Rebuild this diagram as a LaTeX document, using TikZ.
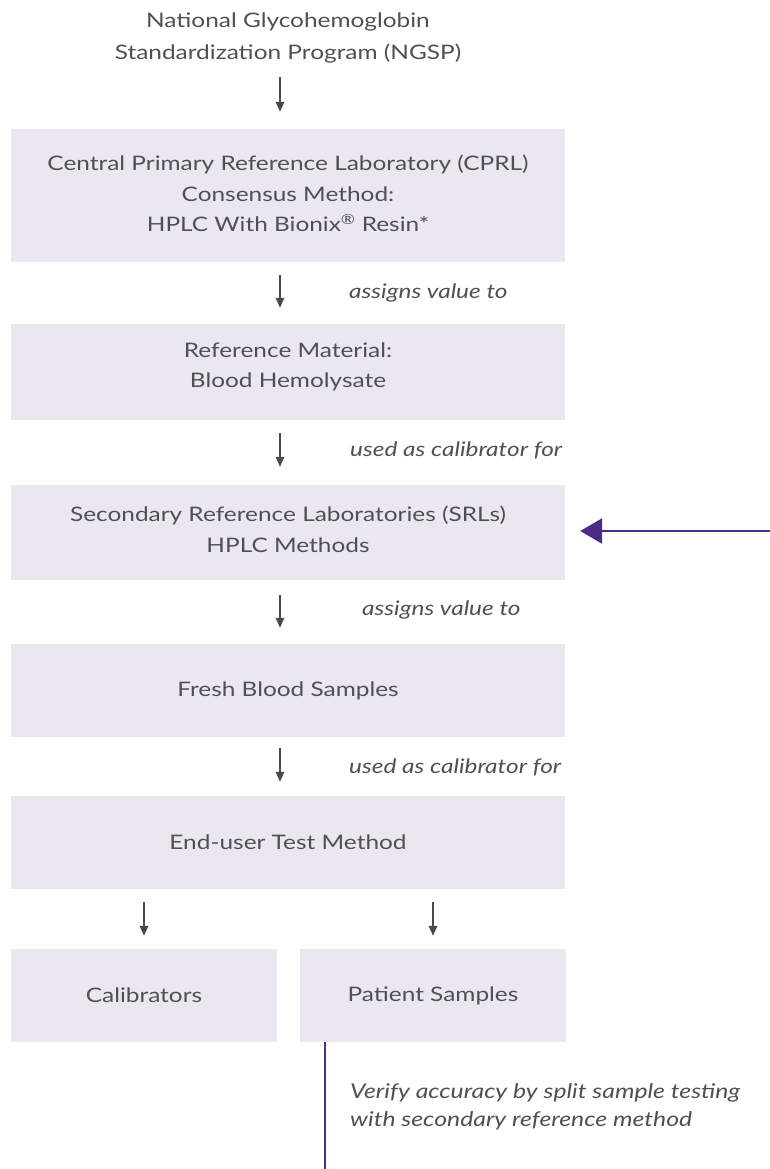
\documentclass[tikz,border=0pt]{standalone}
\usepackage{fontspec}
\setmainfont{Lato}[FakeStretch=1.22]
\usetikzlibrary{arrows.meta,calc}
\definecolor{txt}{HTML}{505050}
\definecolor{boxfill}{HTML}{EAE7F1}
\definecolor{purp}{HTML}{4B2C87}
\definecolor{arrc}{HTML}{4A4A4A}
\newcommand{\lowdepth}[1]{\rule[-#1]{0pt}{0pt}}
\tikzset{
  stage/.style={fill=boxfill, draw=none, inner sep=0pt, minimum width=554pt, align=center, text=txt, font=\fontsize{20}{30.5}\selectfont},
  smallstage/.style={stage, minimum width=266pt},
  lbl/.style={text=txt, font=\fontsize{20}{28}\selectfont\itshape, inner sep=0pt, anchor=west},
  arr/.style={draw=arrc, line width=1.8pt, -{Triangle[length=10pt,width=8.5pt]}, shorten <=13pt, shorten >=16pt},
  parr/.style={draw=purp, line width=2.7pt, -{Triangle[length=22pt,width=25pt]}},
  pline/.style={draw=purp, line width=2.7pt}
}
\begin{document}
\begin{tikzpicture}[x=1pt,y=-1pt]
\path[use as bounding box] (0,0) rectangle (770,1169);
\node[text=txt, align=center, inner sep=0pt, font=\fontsize{20}{32}\selectfont] (title) at (288,38) {National Glycohemoglobin\\Standardization Program (NGSP)};
\node[stage, minimum height=133pt] (cprl) at (288,195.5) {Central Primary Reference Laboratory (CPRL)\\Consensus Method:\\HPLC With Bionix\textsuperscript{®} Resin*\lowdepth{4pt}};
\node[stage, minimum height=96pt] (ref) at (288,372) {Reference Material:\\Blood Hemolysate\lowdepth{14pt}};
\node[stage, minimum height=95pt] (srl) at (288,532.5) {Secondary Reference Laboratories (SRLs)\\HPLC Methods\lowdepth{7pt}};
\node[stage, minimum height=93pt] (fresh) at (288,690.5) {Fresh Blood Samples};
\node[stage, minimum height=93pt] (enduser) at (288,842.5) {End-user Test Method};
\node[smallstage, minimum height=93pt] (calib) at (144,995.5) {Calibrators};
\node[smallstage, minimum height=93pt] (patient) at (433,995.5) {Patient Samples};

\draw[arr, shorten <=14pt, shorten >=17pt] (title.south -| 280,0) -- ([xshift=-8pt]cprl.north);
\draw[arr] ([xshift=-8pt]cprl.south) -- ([xshift=-8pt]ref.north);
\draw[arr, shorten >=18pt] ([xshift=-8pt]ref.south) -- ([xshift=-8pt]srl.north);
\draw[arr, shorten <=15pt] ([xshift=-8pt]srl.south) -- ([xshift=-8pt]fresh.north);
\draw[arr, shorten <=11pt, shorten >=14pt] ([xshift=-8pt]fresh.south) -- ([xshift=-8pt]enduser.north);
\draw[arr, shorten >=13pt] (enduser.south -| calib.north) -- (calib.north);
\draw[arr, shorten >=13pt] (enduser.south -| patient.north) -- (patient.north);

\node[lbl] (l1) at (349,293) {assigns value to};
\node[lbl] (l2) at (350,450) {used as calibrator for};
\node[lbl] (l3) at (362,610) {assigns value to};
\node[lbl] (l4) at (349,767) {used as calibrator for};

\coordinate (pin) at (770,531);
\draw[parr] (pin) -- ([xshift=15pt]srl.east |- pin);
\coordinate (pend) at (325,1169);
\draw[pline] (patient.south -| pend) -- (pend);
\node[lbl, align=left, font=\fontsize{20.3}{28}\selectfont\itshape] (verify) at (350,1107) {Verify accuracy by split sample testing\\with secondary reference method};
\end{tikzpicture}
\end{document}
